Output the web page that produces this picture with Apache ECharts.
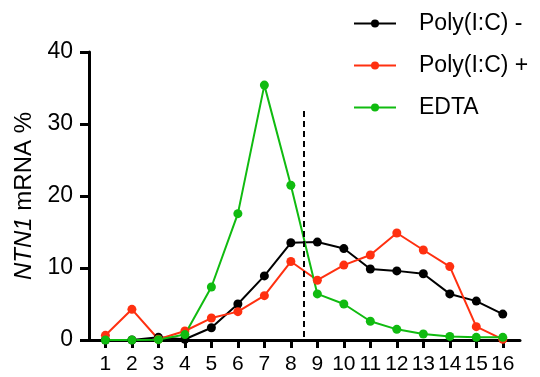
<!DOCTYPE html>
<html>
<head>
<meta charset="utf-8">
<script src="https://cdn.jsdelivr.net/npm/echarts@6/dist/echarts.min.js"></script>
<style>
  html, body { margin: 0; padding: 0; background: #fff; }
  #chart { width: 540px; height: 377px; }
</style>
</head>
<body>
<div id="chart"></div>
<script>
// fraction number on the x axis
var fractions = [1, 2, 3, 4, 5, 6, 7, 8, 9, 10, 11, 12, 13, 14, 15, 16];
// NTN1 mRNA % per fraction
var polyMinus = [0, 0, 0.37, 0.1, 1.7, 5.0, 8.9, 13.5, 13.6, 12.7, 9.86, 9.6, 9.2, 6.4, 5.4, 3.6];
var polyPlus = [0.65, 4.26, 0.1, 1.25, 3.05, 3.94, 6.16, 10.9, 8.3, 10.4, 11.8, 14.86, 12.5, 10.2, 1.85, 0.1];
var edta = [0, 0, 0.05, 0.75, 7.36, 17.55, 35.4, 21.5, 6.4, 5.0, 2.6, 1.48, 0.83, 0.5, 0.37, 0.37];
// dashed divider between fractions 8 and 9
var dividerX = 8.5;
var dividerTop = 31.8;

var FONT = "'Liberation Sans', Arial, sans-serif";

function pairs(vals) {
  return fractions.map(function (f, i) { return [f, vals[i]]; });
}

function lineSeries(name, color, vals) {
  return {
    name: name,
    type: 'line',
    data: pairs(vals),
    symbol: 'circle',
    symbolSize: 9,
    lineStyle: { color: color, width: 2 },
    itemStyle: { color: color },
    animation: false
  };
}

var chart = echarts.init(document.getElementById('chart'));

var black = lineSeries('Poly(I:C) -', '#000000', polyMinus);
black.markLine = {
  silent: true,
  symbol: ['none', 'none'],
  label: { show: false },
  lineStyle: { color: '#000', width: 2, type: [6, 4] },
  data: [[{ coord: [dividerX, dividerTop] }, { coord: [dividerX, 0] }]],
  animation: false
};

chart.setOption({
  backgroundColor: '#fff',
  grid: { left: 89, right: 20, top: 52, bottom: 37 },
  legend: {
    orient: 'vertical',
    left: 353,
    top: 12,
    padding: 0,
    itemWidth: 42,
    itemHeight: 10,
    itemGap: 19,
    data: ['Poly(I:C) -', 'Poly(I:C) +', 'EDTA'],
    textStyle: { fontFamily: FONT, fontSize: 23, color: '#000', padding: [0, 0, 0, 18] }
  },
  xAxis: {
    type: 'value',
    min: 0.38,
    max: 16.65,
    splitLine: { show: false },
    axisLine: { onZero: false, lineStyle: { color: '#000', width: 3 } },
    axisTick: { customValues: fractions, length: 8, lineStyle: { color: '#000', width: 3 } },
    axisLabel: {
      customValues: fractions,
      margin: 14,
      fontFamily: FONT,
      fontSize: 21,
      color: '#000'
    }
  },
  yAxis: {
    type: 'value',
    min: 0,
    max: 40,
    interval: 10,
    name: '{i|NTN1} mRNA %',
    nameLocation: 'middle',
    nameGap: 52,
    nameTextStyle: {
      fontFamily: FONT,
      fontSize: 24,
      color: '#000',
      rich: { i: { fontStyle: 'italic', fontFamily: FONT, fontSize: 24, color: '#000' } }
    },
    splitLine: { show: false },
    axisLine: { show: true, lineStyle: { color: '#000', width: 3 } },
    axisTick: { show: true, length: 9, lineStyle: { color: '#000', width: 3 } },
    axisLabel: { margin: 16, fontFamily: FONT, fontSize: 23, color: '#000' }
  },
  series: [
    black,
    lineSeries('Poly(I:C) +', '#FF3010', polyPlus),
    lineSeries('EDTA', '#10BB10', edta)
  ]
});
</script>
</body>
</html>
